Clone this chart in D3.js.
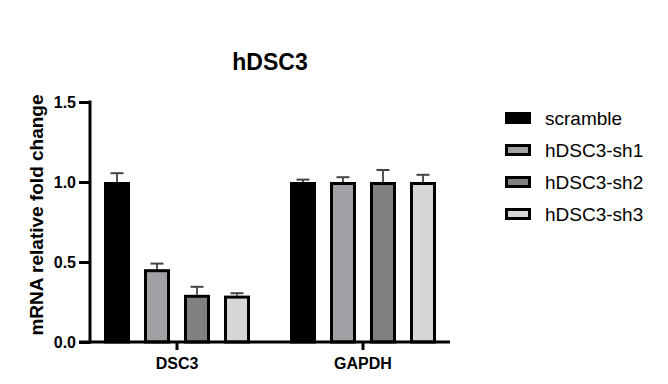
<!DOCTYPE html>
<html><head><meta charset="utf-8">
<script src="https://cdn.jsdelivr.net/npm/d3@7"></script>
<style>body{margin:0;background:#fff}svg{display:block}text{font-family:"Liberation Sans",Arial,sans-serif}</style>
</head><body><svg id="c" width="668" height="384"></svg>
<script>
const title = "hDSC3";
const yLabel = "mRNA relative fold change";
const categories = ["DSC3", "GAPDH"];
const series = ["scramble", "hDSC3-sh1", "hDSC3-sh2", "hDSC3-sh3"];
const colors = ["#000000", "#a1a1a5", "#808080", "#d6d6d6"];
// values[series][category]
const means = [[1.00, 1.00], [0.455, 1.00], [0.295, 1.00], [0.29, 1.00]];
const errors = [[0.055, 0.015], [0.035, 0.03], [0.05, 0.075], [0.015, 0.045]];
const yTicks = [0, 0.5, 1.0, 1.5];

const svg = d3.select("#c");
const y = d3.scaleLinear().domain([0, 1.5]).range([342, 102]);
const x = d3.scaleBand().domain(categories).range([84, 456]);
const xi = d3.scaleBand().domain(series).range([-80, 80]).paddingInner(0.35).paddingOuter(0.175);
const axisX0 = 90, axisY0 = y(0);
const ff = '"Liberation Sans",Arial,sans-serif';

// bars
categories.forEach((c, ci) => {
  const cx = x(c) + x.bandwidth() / 2;
  series.forEach((s, si) => {
    const v = means[si][ci], e = errors[si][ci];
    const x0 = cx + xi(s), bw = xi.bandwidth();
    const bx = x0 + bw / 2;
    svg.append("line").attr("x1", bx).attr("x2", bx).attr("y1", y(v)).attr("y2", y(v + e))
      .attr("stroke", "#555").attr("stroke-width", 2);
    svg.append("line").attr("x1", bx - 6.5).attr("x2", bx + 6.5).attr("y1", y(v + e)).attr("y2", y(v + e))
      .attr("stroke", "#444").attr("stroke-width", 2);
    svg.append("rect").attr("x", x0 + 1.5).attr("y", y(v) + 1.5)
      .attr("width", bw - 3).attr("height", y(0) - y(v) - 1.5)
      .attr("fill", colors[si]).attr("stroke", "#000").attr("stroke-width", 3);
  });
});

// y axis
const ya = svg.append("g").attr("transform", `translate(${axisX0},0)`)
  .call(d3.axisLeft(y).tickValues(yTicks).tickFormat(d3.format(".1f")).tickSize(11).tickPadding(3));
ya.select(".domain").attr("d", `M0,${y(1.5) - 1.5}V${axisY0 + 1.5}`).attr("stroke-width", 3).attr("stroke", "#000");
ya.selectAll(".tick line").attr("stroke-width", 3).attr("stroke", "#000");
ya.selectAll("text").attr("font-size", 16).attr("font-weight", "bold").attr("fill", "#000").style("font-family", ff);

// x axis
const xa = svg.append("g").attr("transform", `translate(0,${axisY0})`)
  .call(d3.axisBottom(x).tickSize(8).tickPadding(8));
xa.select(".domain").attr("d", `M79,0H450`).attr("stroke-width", 3).attr("stroke", "#000");
xa.selectAll(".tick line").attr("stroke-width", 3).attr("stroke", "#000");
xa.selectAll("text").attr("font-size", 16).attr("font-weight", "bold").attr("fill", "#000").style("font-family", ff);

// title
svg.append("text").attr("x", 270).attr("y", 70).attr("text-anchor", "middle")
  .attr("font-size", 23).attr("font-weight", "bold").text(title);

// y label
svg.append("text").attr("transform", "translate(43,215) rotate(-90)").attr("text-anchor", "middle")
  .attr("font-size", 19).attr("font-weight", "bold").text(yLabel);

// legend
const lg = svg.append("g");
series.forEach((s, i) => {
  const ly = 118 + i * 32;
  lg.append("rect").attr("x", 506.5).attr("y", ly - 4.5).attr("width", 23).attr("height", 9)
    .attr("fill", colors[i]).attr("stroke", "#000").attr("stroke-width", 3);
  lg.append("text").attr("x", 545).attr("y", ly).attr("dy", "0.35em")
    .attr("font-size", 19).attr("fill", "#000").text(s);
});
</script></body></html>
